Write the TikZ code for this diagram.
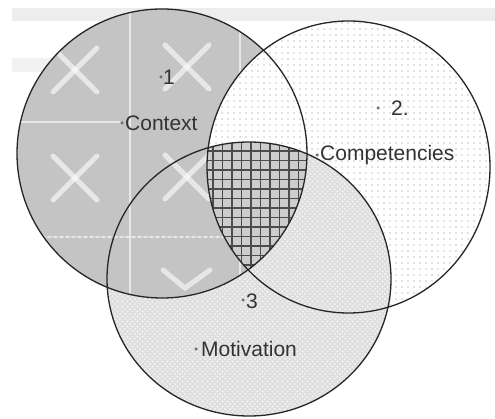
\documentclass[tikz,border=0pt]{standalone}
\usepackage{fontspec}
\setmainfont{Liberation Sans}
\usetikzlibrary{patterns}
\definecolor{ctxgray}{RGB}{196,196,196}
\definecolor{motgray}{RGB}{222,222,222}
\definecolor{gridbg}{RGB}{205,205,205}
\pgfdeclarepatternformonly{sparsedots}{\pgfqpoint{-1pt}{-1pt}}{\pgfqpoint{1pt}{1pt}}{\pgfqpoint{6pt}{6pt}}{\pgfpathcircle{\pgfqpoint{0pt}{0pt}}{0.8pt}\pgfusepath{fill}}
\pgfdeclarepatternformonly{meshdots}{\pgfqpoint{-1pt}{-1pt}}{\pgfqpoint{6pt}{6pt}}{\pgfqpoint{5pt}{5pt}}{\pgfpathcircle{\pgfqpoint{0pt}{0pt}}{1.1pt}\pgfpathcircle{\pgfqpoint{2.5pt}{2.5pt}}{1.1pt}\pgfusepath{fill}}
\newcommand\ctxfill{%
  \fill[ctxgray] (c1) ellipse [x radius=145, y radius=144.5];
  \begin{scope}
    \clip (c1) ellipse [x radius=145, y radius=144.5];
    \draw[deco, line width=2pt] (130,0) -- (130,419);
    \draw[deco, line width=2pt] (240,0) -- (240,419);
    \draw[deco, line width=2pt] (0,122) -- (120,122);
    \draw[deco, line width=2pt, dashed] (0,237) -- (300,237);
    \foreach \cx/\cy in {75/70, 187/67, 75/178, 187/177}{
      \draw[deco] (\cx-22,\cy-22) -- (\cx+22,\cy+22);
      \draw[deco] (\cx-22,\cy+22) -- (\cx+22,\cy-22);
    }
    \draw[deco] (163,270) -- (185,288) -- (210,270);
  \end{scope}}
\begin{document}
\begin{tikzpicture}[x=1pt,y=-1pt,
  outline/.style={draw=black!85, line width=1.3pt},
  lbl/.style={font=\fontsize{21}{24}\selectfont, text=black!80, inner sep=0pt, anchor=west},
  dotmark/.style={circle, fill=black!55, inner sep=0pt, minimum size=3.5pt},
  deco/.style={white, opacity=0.6, line width=5pt, line cap=round},
]
\useasboundingbox (0,0) rectangle (495,419);
\fill[white] (0,0) rectangle (495,419);
\fill[gray!14] (12,8) rectangle (495,21);
\fill[gray!10] (12,58) rectangle (60,72);
\coordinate (c1) at (162,153.5);
\coordinate (c2) at (348.5,167);
\coordinate (c3) at (249,279);
% circle 1
\ctxfill
% circle 2
\fill[white] (c2) ellipse [x radius=141.5, y radius=146];
\fill[pattern=sparsedots, pattern color=gray!45] (c2) ellipse [x radius=141.5, y radius=146];
% circle 3
\fill[motgray] (c3) ellipse [x radius=142, y radius=137];
\fill[pattern=meshdots, pattern color=white!92!gray] (c3) ellipse [x radius=142, y radius=137];
% 1 cap 3 keeps circle 1 look
\begin{scope}
  \clip (c3) ellipse [x radius=142, y radius=137];
  \ctxfill
\end{scope}
% triple intersection
\begin{scope}
  \clip (c1) ellipse [x radius=145, y radius=144.5];
  \clip (c2) ellipse [x radius=141.5, y radius=146];
  \clip (c3) ellipse [x radius=142, y radius=137];
  \fill[gridbg] (200,130) rectangle (320,280);
  \foreach \k in {0,...,11}{
    \draw[black!70, line width=1.4pt] (213+9.5*\k,130) -- (213+9.5*\k,280);
  }
  \foreach \k in {0,...,13}{
    \draw[black!70, line width=1.4pt] (200,151+9.5*\k) -- (320,151+9.5*\k);
  }
\end{scope}
% outlines
\draw[outline] (c1) ellipse [x radius=145, y radius=144.5];
\draw[outline] (c2) ellipse [x radius=141.5, y radius=146];
\draw[outline] (c3) ellipse [x radius=142, y radius=137];
% labels
\node[dotmark] (d1) at (161,77) {};
\node[lbl] (t1) at (163,77) {1};
\node[dotmark] (dctx) at (122,123) {};
\node[lbl] (tctx) at (125,123) {Context};
\node[dotmark] (d2) at (378,108) {};
\node[lbl] (t2) at (391,108) {2.};
\node[dotmark] (dcomp) at (317,155) {};
\node[lbl] (tcomp) at (320,155) {Competencies};
\node[dotmark] (d3) at (243,300) {};
\node[lbl] (t3) at (246,301) {3};
\node[dotmark] (dmot) at (196,349) {};
\node[lbl] (tmot) at (201,349) {Motivation};
\end{tikzpicture}
\end{document}
